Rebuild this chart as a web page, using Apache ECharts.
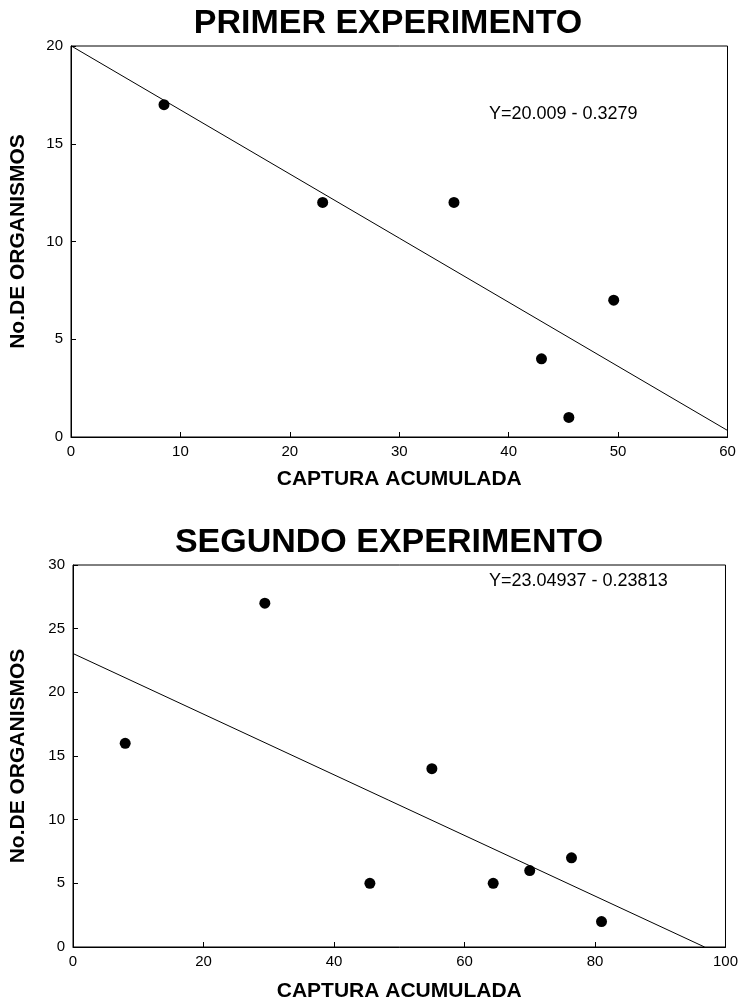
<!DOCTYPE html>
<html>
<head>
<meta charset="utf-8">
<script src="https://cdn.jsdelivr.net/npm/echarts@6/dist/echarts.min.js"></script>
<style>
html,body{margin:0;padding:0;background:#fff;}
#c{width:741px;height:1003px;}
</style>
</head>
<body>
<div id="c"></div>
<script>
// ---- Data ----
var title1 = "PRIMER EXPERIMENTO";
var title2 = "SEGUNDO EXPERIMENTO";
var xName = "CAPTURA ACUMULADA";
var yName = "No.DE ORGANISMOS";

var exp1X = [8.5, 23, 35, 43, 45.5, 49.6];
var exp1Y = [17, 12, 12, 4, 1, 7];
var exp2X = [8, 29.4, 45.5, 55, 64.4, 70, 76.4, 81];
var exp2Y = [16, 27, 5, 14, 5, 6, 7, 2];

var eq1 = "Y=20.009 - 0.3279";
var eq2 = "Y=23.04937 - 0.23813";
var fit1Intercept = 20.009, fit1Slope = -0.3279;
var fit2Intercept = 23.04937, fit2Slope = -0.23813;
var fit1X = [0, 60];
var fit2X = [0, 96.8];

var x1Ticks = [0, 10, 20, 30, 40, 50, 60];
var y1Ticks = [0, 5, 10, 15, 20];
var x2Ticks = [0, 20, 40, 60, 80, 100];
var y2Ticks = [0, 5, 10, 15, 20, 25, 30];

function pairs(xs, ys) { return xs.map(function (x, i) { return [x, ys[i]]; }); }
function fitLine(xs, a, b) { return xs.map(function (x) { return [x, a + b * x]; }); }

var FONT = "Liberation Sans, Arial, sans-serif";

function xAxis(gi, ticks, nameGap) {
  return {
    type: 'value', gridIndex: gi,
    min: ticks[0], max: ticks[ticks.length - 1], interval: ticks[1] - ticks[0],
    name: xName, nameLocation: 'middle', nameGap: nameGap,
    nameTextStyle: { fontFamily: FONT, fontWeight: 'bold', fontSize: 21, color: '#000' },
    axisLine: { show: true, lineStyle: { color: '#000', width: 1 } },
    axisTick: { show: true, inside: true, length: 5, lineStyle: { color: '#000' } },
    axisLabel: { fontFamily: FONT, fontSize: 15, color: '#000', margin: 7 },
    splitLine: { show: false }
  };
}
function yAxis(gi, ticks, nameGap) {
  return {
    type: 'value', gridIndex: gi,
    min: ticks[0], max: ticks[ticks.length - 1], interval: ticks[1] - ticks[0],
    name: yName, nameLocation: 'middle', nameGap: nameGap, nameRotate: 90,
    nameTextStyle: { fontFamily: FONT, fontWeight: 'bold', fontSize: 21, color: '#000' },
    axisLine: { show: true, lineStyle: { color: '#000', width: 1 } },
    axisTick: { show: true, inside: true, length: 5, lineStyle: { color: '#000' } },
    axisLabel: { fontFamily: FONT, fontSize: 15, color: '#000', margin: 8 },
    splitLine: { show: false }
  };
}

var chart = echarts.init(document.getElementById('c'));
chart.setOption({
  backgroundColor: '#fff',
  animation: false,
  title: [
    { text: title1, left: 383, top: 2, textAlign: 'center',
      textStyle: { fontFamily: FONT, fontWeight: 'bold', fontSize: 34, color: '#000' } },
    { text: title2, left: 384, top: 521, textAlign: 'center',
      textStyle: { fontFamily: FONT, fontWeight: 'bold', fontSize: 34, color: '#000' } },
    { text: eq1, left: 484, top: 100,
      textStyle: { fontFamily: FONT, fontWeight: 'normal', fontSize: 18, color: '#000' } },
    { text: eq2, left: 484, top: 567,
      textStyle: { fontFamily: FONT, fontWeight: 'normal', fontSize: 18, color: '#000' } }
  ],
  grid: [
    { left: 63, right: 13.5, top: 46, bottom: 566, show: true, borderColor: '#000', borderWidth: 1, containLabel: false },
    { left: 66, right: 13, top: 565, bottom: 50, show: true, borderColor: '#000', borderWidth: 1, containLabel: false }
  ],
  xAxis: [xAxis(0, x1Ticks, 32), xAxis(1, x2Ticks, 34)],
  yAxis: [yAxis(0, y1Ticks, 42), yAxis(1, y2Ticks, 44)],
  series: [
    { type: 'line', xAxisIndex: 0, yAxisIndex: 0, data: fitLine(fit1X, fit1Intercept, fit1Slope),
      showSymbol: false, symbol: 'none', lineStyle: { color: '#000', width: 1 } },
    { type: 'scatter', xAxisIndex: 0, yAxisIndex: 0, data: pairs(exp1X, exp1Y),
      symbol: 'circle', symbolSize: 11, itemStyle: { color: '#000', opacity: 1 } },
    { type: 'line', xAxisIndex: 1, yAxisIndex: 1, data: fitLine(fit2X, fit2Intercept, fit2Slope),
      showSymbol: false, symbol: 'none', lineStyle: { color: '#000', width: 1 } },
    { type: 'scatter', xAxisIndex: 1, yAxisIndex: 1, data: pairs(exp2X, exp2Y),
      symbol: 'circle', symbolSize: 11, itemStyle: { color: '#000', opacity: 1 } }
  ]
});
</script>
</body>
</html>
